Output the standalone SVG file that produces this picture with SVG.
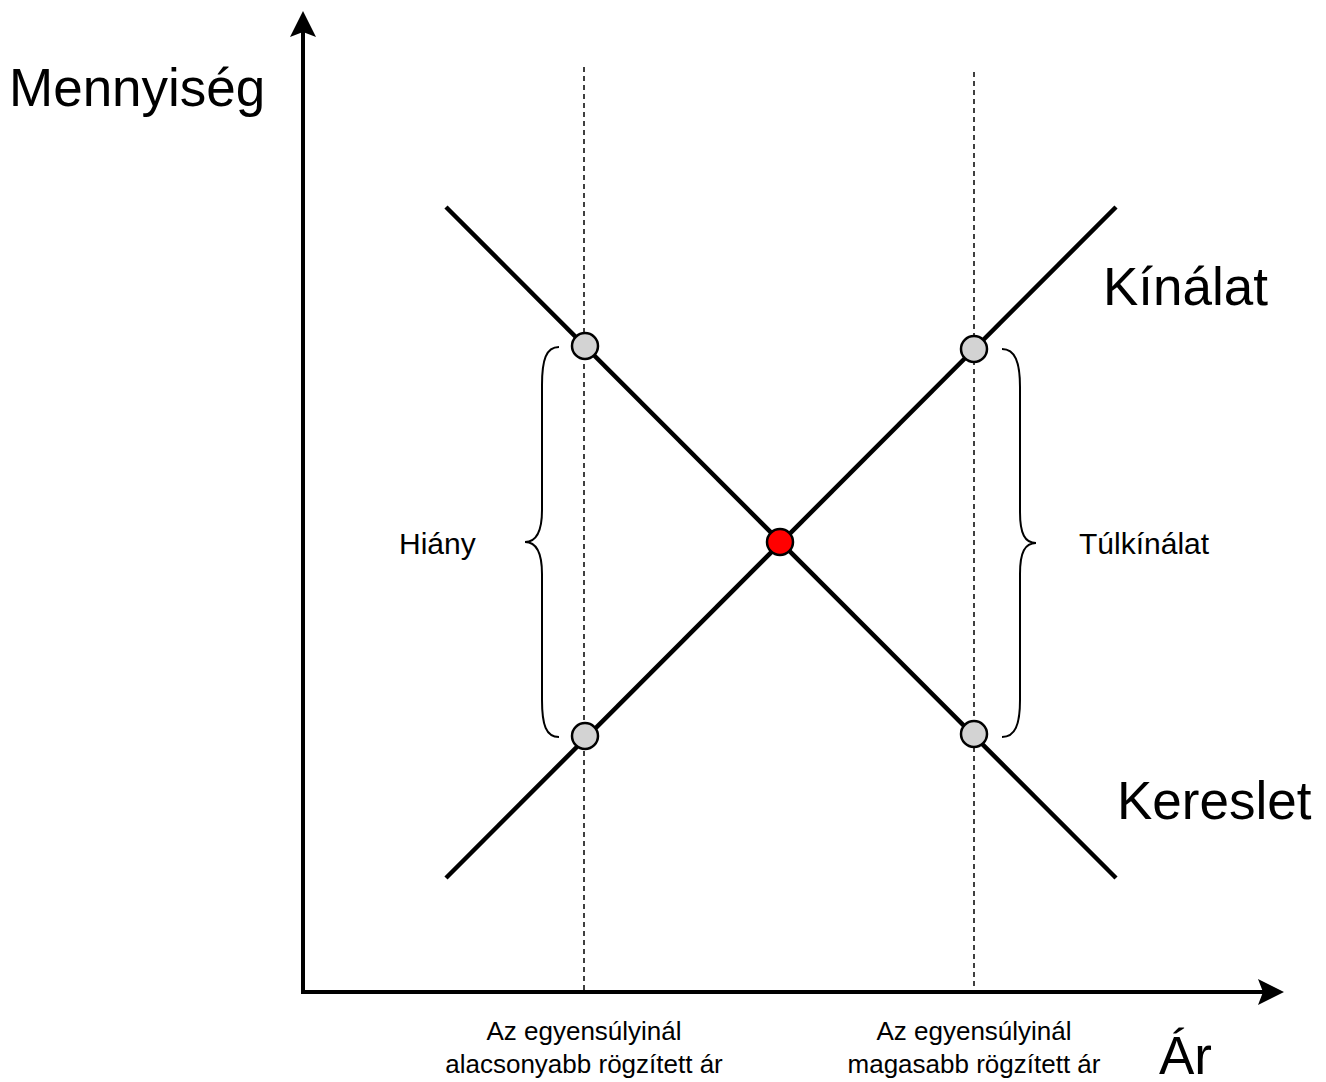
<svg xmlns="http://www.w3.org/2000/svg" width="1326" height="1082" viewBox="0 0 1326 1082">
<style>
text{font-family:"Liberation Sans",Arial,sans-serif;fill:#000}
.big{font-size:53px}
.mid{font-size:30px}
.small{font-size:26px;text-anchor:middle}
.axis{stroke:#000;stroke-width:4;fill:none}
.curve{stroke:#000;stroke-width:4.5;fill:none}
.dash{stroke:#000;stroke-width:1.5;stroke-dasharray:5 4;fill:none}
.brace{stroke:#000;stroke-width:2;fill:none}
.pt{fill:#d3d3d3;stroke:#000;stroke-width:2.5}
.eq{fill:#ff0000;stroke:#000;stroke-width:2.5}
</style>
<rect width="1326" height="1082" fill="#fff"/>
<g id="connectors">
<line class="dash" x1="584" y1="67" x2="584" y2="992"/>
<line class="dash" x1="974" y1="72" x2="974" y2="992"/>
<line class="curve" x1="446" y1="207" x2="1116" y2="878"/>
<line class="curve" x1="446" y1="878" x2="1116" y2="207"/>
<path class="brace" d="M559,347 C546,347 542,360 542,385 L542,510 C542,532 536,542 525,542 C536,542 542,552 542,574 L542,700 C542,725 546,737 559,737"/>
<path class="brace" d="M1002,349 C1015,349 1020,362 1020,387 L1020,512 C1020,534 1025,543 1036,543 C1025,543 1020,552 1020,574 L1020,700 C1020,725 1015,737 1002,737"/>
</g>
<g id="axes">
<line class="axis" x1="303" y1="994" x2="303" y2="30"/>
<polygon points="303,11 316,37 303,32 290,37"/>
<line class="axis" x1="301" y1="992" x2="1265" y2="992"/>
<polygon points="1284,992 1258,979 1263,992 1258,1005"/>
</g>
<g id="equilibrium"><circle class="eq" cx="780" cy="542" r="13"/></g>
<g id="p1"><circle class="pt" cx="585" cy="346" r="13"/></g>
<g id="p2"><circle class="pt" cx="974" cy="349" r="13"/></g>
<g id="p3"><circle class="pt" cx="585" cy="736" r="13"/></g>
<g id="p4"><circle class="pt" cx="974" cy="734" r="13"/></g>
<g id="labels">
<text class="big" x="9" y="106">Mennyiség</text>
<text class="big" x="1103" y="305">Kínálat</text>
<text class="big" x="1117" y="819">Kereslet</text>
<text class="big" x="1159" y="1074">Ár</text>
<text class="mid" x="399" y="554">Hiány</text>
<text class="mid" x="1079" y="554">Túlkínálat</text>
<text class="small" x="584" y="1040">Az egyensúlyinál</text>
<text class="small" x="584" y="1073">alacsonyabb rögzített ár</text>
<text class="small" x="974" y="1040">Az egyensúlyinál</text>
<text class="small" x="974" y="1073">magasabb rögzített ár</text>
</g>
</svg>
